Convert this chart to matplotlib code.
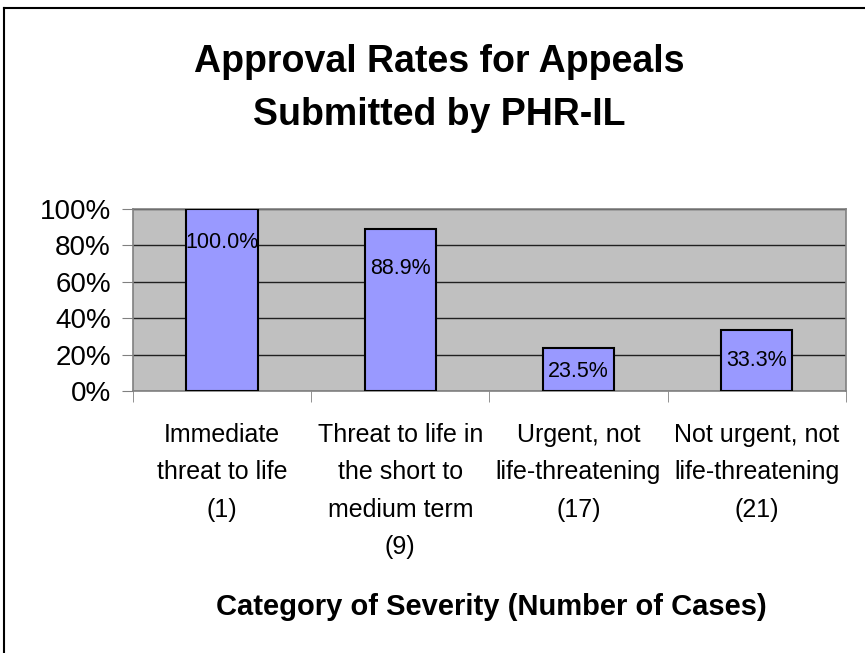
import matplotlib
matplotlib.use("Agg")
import matplotlib.pyplot as plt
from matplotlib.lines import Line2D

categories = [
    "Immediate\nthreat to life\n(1)",
    "Threat to life in\nthe short to\nmedium term\n(9)",
    "Urgent, not\nlife-threatening\n(17)",
    "Not urgent, not\nlife-threatening\n(21)",
]
values = [100.0, 88.9, 23.5, 33.3]
value_labels = ["100.0%", "88.9%", "23.5%", "33.3%"]
y_ticks = [0, 20, 40, 60, 80, 100]
y_tick_labels = ["0%", "20%", "40%", "60%", "80%", "100%"]

# label offsets below bar top (points), style only
label_offsets = [-24, -28, -17, -22]

plt.rcParams['font.family'] = ['Liberation Sans', 'DejaVu Sans']

fig = plt.figure(figsize=(8.65, 6.53), dpi=100)
ax = fig.add_axes([0.1538, 0.4012, 0.8239, 0.2787])
ax.set_facecolor('#C0C0C0')

x = list(range(len(categories)))
bars = ax.bar(x, values, width=0.4, color='#9999FF', edgecolor='black', linewidth=1.5, zorder=3)
ax.set_xlim(-0.5, len(categories) - 0.5)
ax.set_ylim(0, 100)

for xi, v, lab, off in zip(x, values, value_labels, label_offsets):
    ax.annotate(lab, (xi, v), xytext=(0, off), textcoords='offset points',
                ha='center', va='center', fontsize=15.5, zorder=4)

ax.set_yticks(y_ticks)
ax.set_yticklabels(y_tick_labels, fontsize=20)
ax.yaxis.grid(True, color='#202020', linewidth=1.0, zorder=1)
ax.set_axisbelow(True)

ax.set_xticks(x)
ax.set_xticklabels(categories, fontsize=18, linespacing=1.7, va='top')
ax.set_xticks([i - 0.5 for i in range(len(categories) + 1)], minor=True)
ax.tick_params(axis='x', which='major', length=0, pad=23)
ax.tick_params(axis='x', which='minor', length=8, color='#808080', direction='out')
ax.tick_params(axis='y', length=8, color='#808080', direction='out', pad=8)

for s in ['left', 'bottom', 'top', 'right']:
    ax.spines[s].set_color('#808080')
    ax.spines[s].set_linewidth(1.2)

fig.text(0.508, 0.8645, "Approval Rates for Appeals\nSubmitted by PHR-IL",
         ha='center', va='center', fontsize=27, fontweight='bold', linespacing=1.6)
fig.text(0.568, 0.071, "Category of Severity (Number of Cases)",
         ha='center', va='center', fontsize=21, fontweight='bold')

# outer border (top and left)
fig.add_artist(Line2D([4 / 865, 4 / 865], [0, 1 - 8 / 653], transform=fig.transFigure, color='black', linewidth=1.5))
fig.add_artist(Line2D([4 / 865, 1], [1 - 8 / 653, 1 - 8 / 653], transform=fig.transFigure, color='black', linewidth=1.5))

fig.savefig("out.png", dpi=100)
